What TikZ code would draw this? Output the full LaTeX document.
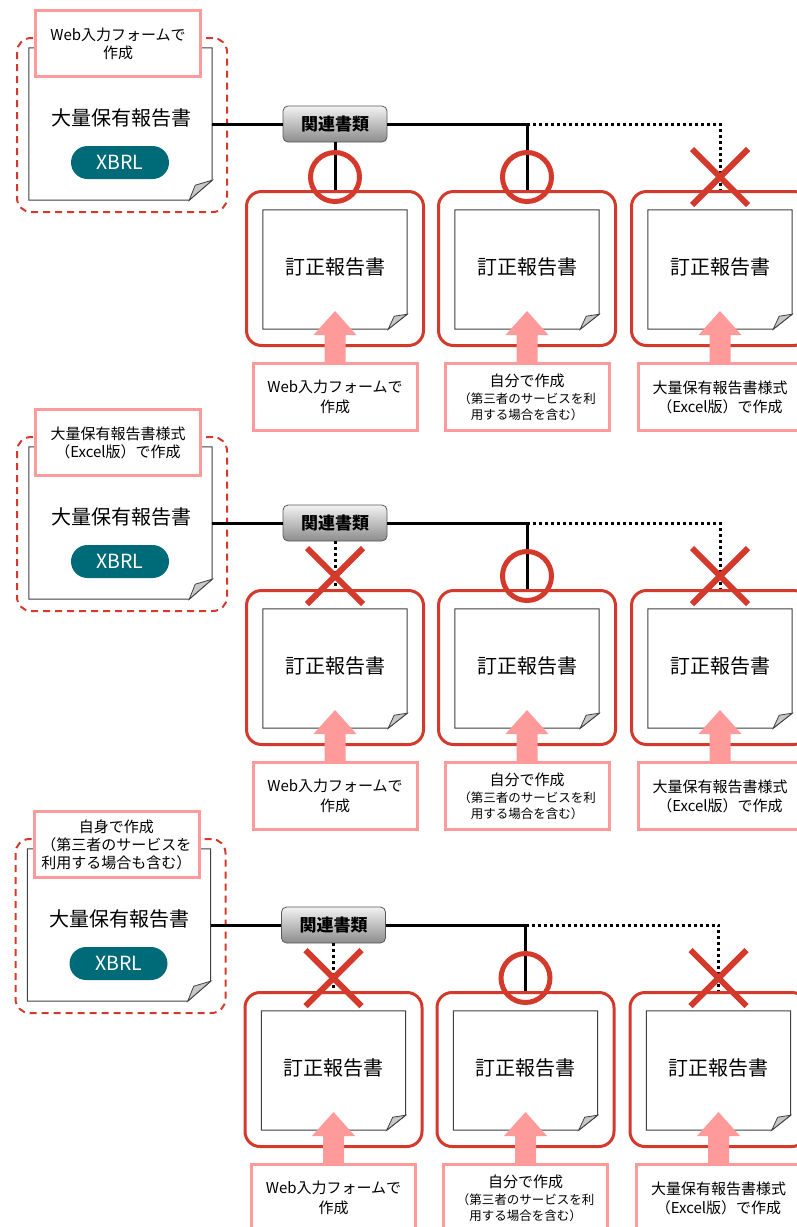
\documentclass[tikz,border=0pt]{standalone}
\usepackage{fontspec}
\setmainfont{Noto Sans CJK JP}
\usetikzlibrary{shapes.misc}

\definecolor{framered}{HTML}{D33A2C}
\definecolor{labelpink}{HTML}{FF9A9A}
\definecolor{xbrlteal}{HTML}{006B78}
\definecolor{foldgray}{HTML}{C8C8C8}

\begin{document}
\begin{tikzpicture}[x=1pt, y=-1pt,
    area/.style={draw=framered, line width=2pt, dash pattern=on 7pt off 5pt, rounded corners=14pt, minimum width=210pt, minimum height=174pt},
    sheet/.style={inner sep=0pt, minimum width=144pt, minimum height=119pt},
    sheetline/.style={draw=black!75, line width=1pt},
    fold/.style={draw=black!75, line width=0.8pt, fill=foldgray},
    redframe/.style={draw=framered, line width=3pt, rounded corners=15pt, minimum width=177pt, minimum height=154pt},
    srcbox/.style={draw=labelpink, line width=3pt, fill=white, align=center, inner sep=0pt},
    related/.style={draw=black!65, line width=0.8pt, rounded corners=5pt, top color=black!5, bottom color=black!45, minimum width=104pt, minimum height=36pt, font=\bfseries\fontsize{17}{17}\selectfont},
    xbrl/.style={fill=xbrlteal, text=white, rounded corners=16.5pt, minimum width=98pt, minimum height=33pt, font=\fontsize{19.5}{19.5}\selectfont},
    link/.style={line width=3pt},
    linkdot/.style={dash pattern=on 3pt off 3pt},
    okmark/.style={circle, draw=framered, line width=5pt, minimum size=49pt, inner sep=0pt},
    ngmark/.style={cross out, draw=framered, line width=6pt, minimum size=50pt, inner sep=0pt},
    uparrow/.style={fill=labelpink}]
    \fill[white] (0,0) rectangle (797,1227);
    \useasboundingbox (0,0) rectangle (797,1227);
    \clip (0,0) rectangle (797,1227);
    \foreach \s/\dx/\dy/\first/\firstline/\top in {
        1/0/0/okmark/solid/{Web入力フォームで\\作成},
        2/0/399/ngmark/linkdot/{大量保有報告書様式\\（Excel版）で作成},
        3/-1.5/801/ngmark/linkdot/{自身で作成\\（第三者のサービスを\\利用する場合も含む）}}
    {\begin{scope}[shift={(\dx,\dy)}]
    % 大量保有報告書
    \node[area] (area\s) at (122,125) {};
    \node[sheet, minimum width=183pt, minimum height=152pt] (main\s) at (120.5,124) {};
    \draw[sheetline] (main\s.north west) -- (main\s.north east) -- ([yshift=20pt]main\s.south east) -- ([xshift=-23pt]main\s.south east) -- (main\s.south west) -- cycle;
    \draw[fold] ([yshift=20pt]main\s.south east) -- ([xshift=-17pt, yshift=15pt]main\s.south east) -- ([xshift=-23pt]main\s.south east) -- cycle;
    \node[font=\fontsize{20}{20}\selectfont] (title\s) at (121,118) {大量保有報告書};
    \node[xbrl] (xbrl\s) at (120,162.5) {XBRL};
    \node[srcbox, minimum width=165pt, minimum height=66pt, font=\fontsize{15}{18}\selectfont] (top\s) at (118,43.5) {\top};
    \node[related] (rel\s) at (335,124) {関連書類};
    % 訂正報告書
    \foreach \c/\cx/\fs/\fl/\src in {
        1/335/15/20/{Web入力フォームで\\作成},
        2/527/12.5/16/{{\fontsize{15}{15}\selectfont 自分で作成}\\[1pt]（第三者のサービスを利\\用する場合を含む）},
        3/720/15/19/{大量保有報告書様式\\（Excel版）で作成}}
    {\node[redframe] (frame\s-\c) at (\cx,268.5) {};
    \node[sheet] (rev\s-\c) at (\cx,269.5) {};
    \draw[sheetline] (rev\s-\c.north west) -- (rev\s-\c.north east) -- ([yshift=15pt]rev\s-\c.south east) -- ([xshift=-19pt]rev\s-\c.south east) -- (rev\s-\c.south west) -- cycle;
    \draw[fold] ([yshift=15pt]rev\s-\c.south east) -- ([xshift=-13pt, yshift=13pt]rev\s-\c.south east) -- ([xshift=-19pt]rev\s-\c.south east) -- cycle;
    \node[font=\fontsize{20}{20}\selectfont] (revtext\s-\c) at (\cx,267) {訂正報告書};
    \node[srcbox, minimum width=164pt, minimum height=67pt, font=\fontsize{\fs}{\fl}\selectfont] (src\s-\c) at (\cx,397) {\src};
    \fill[uparrow] (src\s-\c.north) ++(-10.5,0) -- ++(0,-27) -- ++(-11,0) -- ++(21.5,-24) -- ++(21.5,24) -- ++(-11,0) -- ++(0,27) -- cycle;}
    % connectors
    \coordinate (hub\s) at (frame\s-2.north |- rel\s.east);
    \draw[link] (main\s.east) -- (rel\s.west);
    \draw[link] (rel\s.east) -- (hub\s) -- (frame\s-2.north);
    \draw[link, linkdot] (hub\s) -| (frame\s-3.north);
    \draw[link, \firstline] (rel\s.south) -- (frame\s-1.north);
    \node[\first] (mark\s-1) at ([yshift=13pt]frame\s-1.north) {};
    \node[okmark] (mark\s-2) at ([yshift=13pt]frame\s-2.north) {};
    \node[ngmark] (mark\s-3) at ([yshift=13pt]frame\s-3.north) {};
    \end{scope}}
\end{tikzpicture}
\end{document}
